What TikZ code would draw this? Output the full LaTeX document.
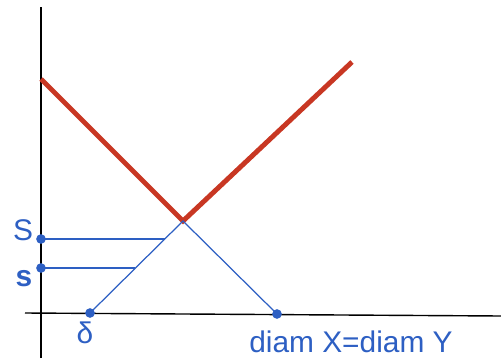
\documentclass[tikz,border=0pt]{standalone}
\usepackage{fontspec}
\setmainfont{Liberation Sans}
\usetikzlibrary{positioning}
\definecolor{diamblue}{RGB}{45,95,195}
\definecolor{diamred}{RGB}{200,55,35}
\begin{document}
\begin{tikzpicture}[
        x=0.02cm, y=0.02cm,
        axis/.style={draw=black, line width=0.8pt},
        redline/.style={draw=diamred, line width=2.8pt, line join=miter},
        blueline/.style={draw=diamblue, line width=0.7pt},
        dot/.style={circle, fill=diamblue, inner sep=0pt, minimum size=5.5pt},
        lbl/.style={text=diamblue, font=\fontsize{17}{19}\selectfont, inner sep=0pt}
    ]
    \useasboundingbox (0,0) rectangle (501,360);

    % axes
    \coordinate (ytop) at (41,353);
    \coordinate (ybot) at (41,2);
    \coordinate (xleft) at (25,47);
    \coordinate (xright) at (501,44);
    \draw[axis] (ybot) -- (ytop);
    \draw[axis] (xleft) -- (xright);

    % red graph
    \coordinate (rA) at (41,281);
    \coordinate (vert) at (183,139);
    \coordinate (rB) at (352,298);
    \draw[redline] (rA) -- (vert) -- (rB);

    % blue graph
    \node[dot] (delta) at (90,47) {};
    \node[dot] (diam) at (277,46) {};
    \node[dot] (Sbig) at (41,121) {};
    \node[dot] (ssmall) at (41,92) {};
    \coordinate (Send) at (165,121);
    \coordinate (send) at (135,92);
    \draw[blueline] (delta.center) -- (vert) -- (diam.center);
    \draw[blueline] (Sbig.center) -- (Send);
    \draw[blueline] (ssmall.center) -- (send);

    % labels
    \node[lbl] (Slbl) at (23,130) {S};
    \node[lbl, font=\fontsize{17}{19}\selectfont\bfseries] (slbl) at (24,81) {s};
    \node[lbl] (dlbl) at (85,27) {δ};
    \node[lbl] (diamlbl) at (351,18) {diam X=diam Y};
\end{tikzpicture}
\end{document}
